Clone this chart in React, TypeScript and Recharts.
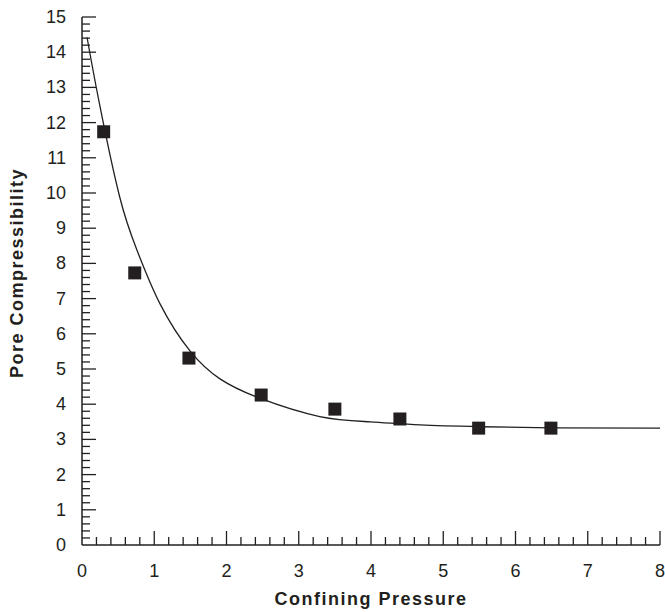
import React from "react";
import {
  ComposedChart,
  Line,
  Scatter,
  XAxis,
  YAxis,
  ZAxis,
  Label,
} from "recharts";

// measured points
const pressure = [0.3, 0.73, 1.48, 2.48, 3.5, 4.4, 5.49, 6.49];
const compressibility = [11.74, 7.73, 5.31, 4.26, 3.86, 3.58, 3.32, 3.32];

// fitted curve
const curveX = [0.07, 0.24, 0.52, 0.76, 1.08, 1.5, 1.91, 2.46, 3.29, 3.99, 4.68, 5.51, 6.5, 8.0];
const curveY = [14.42, 12.55, 9.9, 8.38, 6.85, 5.5, 4.72, 4.17, 3.65, 3.5, 3.41, 3.36, 3.33, 3.32];

const xTicks = Array.from({ length: 41 }, (_, i) => i / 5);
const yTicks = Array.from({ length: 76 }, (_, i) => i / 5);

const points = pressure.map((x, i) => ({ x, y: compressibility[i] }));
const curve = curveX.map((x, i) => ({ x, y: curveY[i] }));

const INK = "#231f20";
const FONT = "'Liberation Sans', Arial, sans-serif";

const isMajor = (v: number) => Math.abs(v - Math.round(v)) < 1e-6;

const XTick = (props: any) => {
  const { x, y, payload } = props;
  const v = payload.value;
  const major = isMajor(v);
  return (
    <g>
      {v > 0 && (
        <line x1={x} x2={x} y1={y} y2={y - (major ? 14 : 8)} stroke={INK} strokeWidth={1.3} />
      )}
      {major && (
        <text x={x} y={y + 32} textAnchor="middle" fontSize={18} fill={INK} fontFamily={FONT}>
          {Math.round(v)}
        </text>
      )}
    </g>
  );
};

const YTick = (props: any) => {
  const { x, y, payload } = props;
  const v = payload.value;
  const major = isMajor(v);
  return (
    <g>
      {v > 0 && (
        <line x1={x} x2={x + (major ? 14 : 8)} y1={y} y2={y} stroke={INK} strokeWidth={1.3} />
      )}
      {major && (
        <text x={x - 16} y={y + 6} textAnchor="end" fontSize={18} fill={INK} fontFamily={FONT}>
          {Math.round(v)}
        </text>
      )}
    </g>
  );
};

const App: React.FC = () => {
  return (
    <div style={{ position: "absolute", left: 8, top: 8 }}>
      <ComposedChart
        width={657}
        height={604}
        margin={{ top: 9, right: 5, bottom: 0, left: 0 }}
        style={{ fontFamily: FONT, overflow: "visible" }}
      >
        <XAxis
          type="number"
          dataKey="x"
          domain={[0, 8]}
          ticks={xTicks}
          interval={0}
          tick={<XTick />}
          tickLine={false}
          tickSize={0}
          tickMargin={0}
          axisLine={{ stroke: INK, strokeWidth: 1.5 }}
          height={67}
          allowDataOverflow
        >
          <Label
            content={(p: any) => {
              const vb = p.viewBox;
              return (
                <text
                  x={vb.x + vb.width / 2}
                  y={vb.y + 60}
                  textAnchor="middle"
                  fontSize={18}
                  letterSpacing={1.5}
                  fontWeight="bold"
                  fill={INK}
                  fontFamily={FONT}
                >
                  Confining Pressure
                </text>
              );
            }}
          />
        </XAxis>
        <YAxis
          type="number"
          dataKey="y"
          domain={[0, 15]}
          ticks={yTicks}
          interval={0}
          tick={<YTick />}
          tickLine={false}
          tickSize={0}
          tickMargin={0}
          axisLine={{ stroke: INK, strokeWidth: 1.5 }}
          width={74}
          allowDataOverflow
        >
          <Label
            content={(p: any) => {
              const vb = p.viewBox;
              const cx = 15;
              const cy = vb.y + vb.height / 2 - 8;
              return (
                <text
                  x={cx}
                  y={cy}
                  transform={`rotate(-90 ${cx} ${cy})`}
                  textAnchor="middle"
                  fontSize={18}
                  letterSpacing={1.5}
                  fontWeight="bold"
                  fill={INK}
                  fontFamily={FONT}
                >
                  Pore Compressibility
                </text>
              );
            }}
          />
        </YAxis>
        <ZAxis range={[169, 169]} />
        <Line
          data={curve}
          dataKey="y"
          type="natural"
          stroke={INK}
          strokeWidth={1.3}
          dot={false}
          activeDot={false}
          isAnimationActive={false}
        />
        <Scatter
          data={points}
          dataKey="y"
          shape="square"
          fill={INK}
          isAnimationActive={false}
        />
      </ComposedChart>
    </div>
  );
};

export default App;
